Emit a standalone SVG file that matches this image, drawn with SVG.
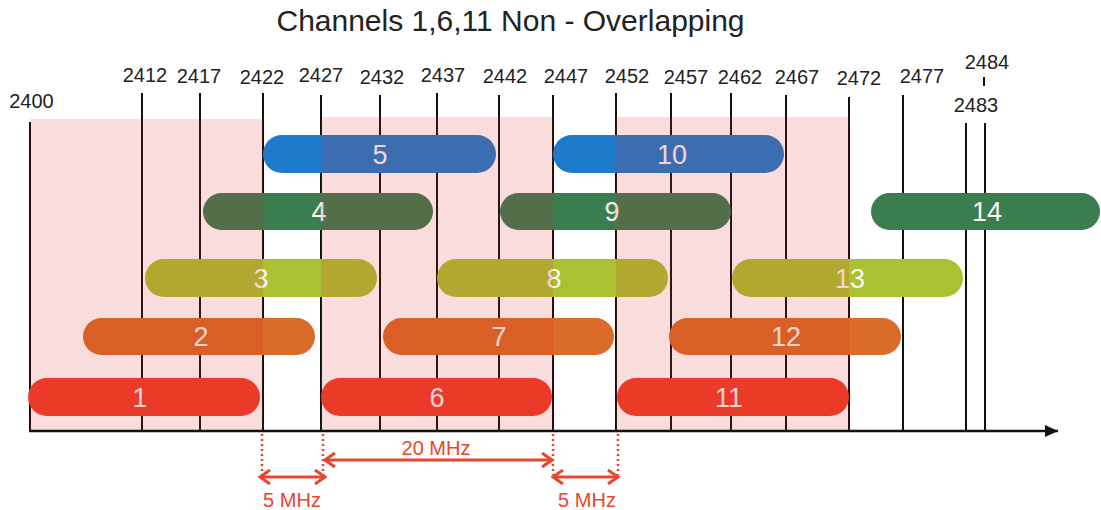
<svg xmlns="http://www.w3.org/2000/svg" width="1101" height="510" viewBox="0 0 1101 510">
<style>
  .t{font-family:"Liberation Sans",Arial,sans-serif;fill:#222}
  .title{font-size:30px}
  .lbl{font-size:20px;text-anchor:middle}
  .tick{stroke:#111;stroke-width:2}
  .num{font-family:"Liberation Sans",Arial,sans-serif;font-size:27px;fill:#fbf6f6;text-anchor:middle}
  .red{fill:#F03E29}
  .org{fill:#DA6B28}
  .lim{fill:#A9C132}
  .grn{fill:#3A7D4F}
  .blu{fill:#1E7BCB}
  .band{fill:#DC2828;fill-opacity:0.16}
  .dim{stroke:#E9452F;stroke-width:3;fill:none}
  .dot{stroke:#E9452F;stroke-width:2.5;stroke-dasharray:2 3;fill:none}
  .mhz{font-family:"Liberation Sans",Arial,sans-serif;font-size:20px;fill:#E9452F;text-anchor:middle}
</style>
<defs>
  <marker id="chev" markerUnits="userSpaceOnUse" markerWidth="14" markerHeight="16" viewBox="0 0 14 16" refX="12" refY="8" orient="auto-start-reverse">
    <path d="M2,1 L12,8 L2,15" fill="none" stroke="#E9452F" stroke-width="3"/>
  </marker>
  <marker id="tri" markerUnits="userSpaceOnUse" markerWidth="14" markerHeight="12" viewBox="0 0 14 12" refX="13" refY="6" orient="auto">
    <path d="M0,0 L13,6 L0,12 Z" fill="#111"/>
  </marker>
</defs>
<rect width="1101" height="510" fill="#fff"/>
<g id="title"><text class="t title" x="510.5" y="31" text-anchor="middle">Channels 1,6,11 Non - Overlapping</text></g>

<g id="frequencies">
  <g id="f2400"><line class="tick" x1="30" y1="122" x2="30" y2="431"/><text class="t lbl" x="31.5" y="108">2400</text></g>
  <g id="f2412"><line class="tick" x1="142" y1="93" x2="142" y2="431"/><text class="t lbl" x="145" y="82">2412</text></g>
  <g id="f2417"><line class="tick" x1="200" y1="93" x2="200" y2="431"/><text class="t lbl" x="199" y="83">2417</text></g>
  <g id="f2422"><line class="tick" x1="263" y1="93" x2="263" y2="431"/><text class="t lbl" x="262" y="84">2422</text></g>
  <g id="f2427"><line class="tick" x1="321" y1="95" x2="321" y2="431"/><text class="t lbl" x="321" y="82">2427</text></g>
  <g id="f2432"><line class="tick" x1="380" y1="95" x2="380" y2="431"/><text class="t lbl" x="382" y="84">2432</text></g>
  <g id="f2437"><line class="tick" x1="437" y1="93" x2="437" y2="431"/><text class="t lbl" x="443" y="82">2437</text></g>
  <g id="f2442"><line class="tick" x1="499" y1="95" x2="499" y2="431"/><text class="t lbl" x="505" y="83">2442</text></g>
  <g id="f2447"><line class="tick" x1="553" y1="95" x2="553" y2="431"/><text class="t lbl" x="566" y="83">2447</text></g>
  <g id="f2452"><line class="tick" x1="616" y1="93" x2="616" y2="431"/><text class="t lbl" x="627" y="83">2452</text></g>
  <g id="f2457"><line class="tick" x1="671" y1="93" x2="671" y2="431"/><text class="t lbl" x="686" y="84">2457</text></g>
  <g id="f2462"><line class="tick" x1="731" y1="93" x2="731" y2="431"/><text class="t lbl" x="740" y="84">2462</text></g>
  <g id="f2467"><line class="tick" x1="786" y1="95" x2="786" y2="431"/><text class="t lbl" x="797" y="84">2467</text></g>
  <g id="f2472"><line class="tick" x1="849" y1="97" x2="849" y2="431"/><text class="t lbl" x="859" y="85">2472</text></g>
  <g id="f2477"><line class="tick" x1="903" y1="95" x2="903" y2="431"/><text class="t lbl" x="922" y="83">2477</text></g>
  <g id="f2483"><line class="tick" x1="966" y1="123" x2="966" y2="430"/><text class="t lbl" x="976" y="112">2483</text></g>
  <g id="f2484"><line class="tick" x1="985" y1="123" x2="985" y2="430"/><line class="tick" x1="984" y1="77" x2="984" y2="86"/><text class="t lbl" x="987" y="69">2484</text></g>
</g>

<g id="channels">
  <g id="ch1"><rect class="red" x="28" y="378" width="232" height="38" rx="19"/><text class="num" x="140" y="407">1</text></g>
  <g id="ch2"><rect class="org" x="83" y="318" width="232" height="37" rx="18.5"/><text class="num" x="201" y="346">2</text></g>
  <g id="ch3"><rect class="lim" x="145" y="259" width="232" height="38" rx="19"/><text class="num" x="261" y="288">3</text></g>
  <g id="ch4"><rect class="grn" x="203" y="193" width="230" height="37" rx="18.5"/><text class="num" x="319" y="221">4</text></g>
  <g id="ch5"><rect class="blu" x="263" y="135" width="233" height="38" rx="19"/><text class="num" x="380" y="164">5</text></g>
  <g id="ch6"><rect class="red" x="321" y="378" width="231" height="38" rx="19"/><text class="num" x="437" y="407">6</text></g>
  <g id="ch7"><rect class="org" x="383" y="318" width="231" height="37" rx="18.5"/><text class="num" x="499" y="346">7</text></g>
  <g id="ch8"><rect class="lim" x="437" y="259" width="231" height="38" rx="19"/><text class="num" x="554" y="288">8</text></g>
  <g id="ch9"><rect class="grn" x="500" y="193" width="231" height="37" rx="18.5"/><text class="num" x="612" y="221">9</text></g>
  <g id="ch10"><rect class="blu" x="553" y="135" width="231" height="38" rx="19"/><text class="num" x="672" y="164">10</text></g>
  <g id="ch11"><rect class="red" x="617" y="378" width="232" height="38" rx="19"/><text class="num" x="729" y="407">11</text></g>
  <g id="ch12"><rect class="org" x="669" y="318" width="232" height="37" rx="18.5"/><text class="num" x="786" y="346">12</text></g>
  <g id="ch13"><rect class="lim" x="732" y="259" width="231" height="38" rx="19"/><text class="num" x="850" y="288">13</text></g>
  <g id="ch14"><rect class="grn" x="871" y="193" width="229" height="37" rx="18.5"/><text class="num" x="987" y="221">14</text></g>
</g>

<g id="bands">
  <rect class="band" x="30" y="119" width="233" height="312"/>
  <rect class="band" x="321" y="117" width="232" height="314"/>
  <rect class="band" x="616" y="117" width="233" height="314"/>
</g>

<g id="connectors">
  <line x1="29" y1="431" x2="1058" y2="431" stroke="#111" stroke-width="2.5" marker-end="url(#tri)"/>
  <line class="dot" x1="262" y1="434" x2="262" y2="472"/>
  <line class="dot" x1="323" y1="434" x2="323" y2="475"/>
  <line class="dot" x1="553" y1="434" x2="553" y2="475"/>
  <line class="dot" x1="618" y1="434" x2="618" y2="475"/>
  <line class="dim" x1="325" y1="460" x2="552" y2="460" marker-start="url(#chev)" marker-end="url(#chev)"/>
  <line class="dim" x1="260" y1="477" x2="325" y2="477" marker-start="url(#chev)" marker-end="url(#chev)"/>
  <line class="dim" x1="553" y1="477" x2="618" y2="477" marker-start="url(#chev)" marker-end="url(#chev)"/>
  <text class="mhz" x="436" y="455">20 MHz</text>
  <text class="mhz" x="292" y="507">5 MHz</text>
  <text class="mhz" x="587" y="507">5 MHz</text>
</g>
</svg>
